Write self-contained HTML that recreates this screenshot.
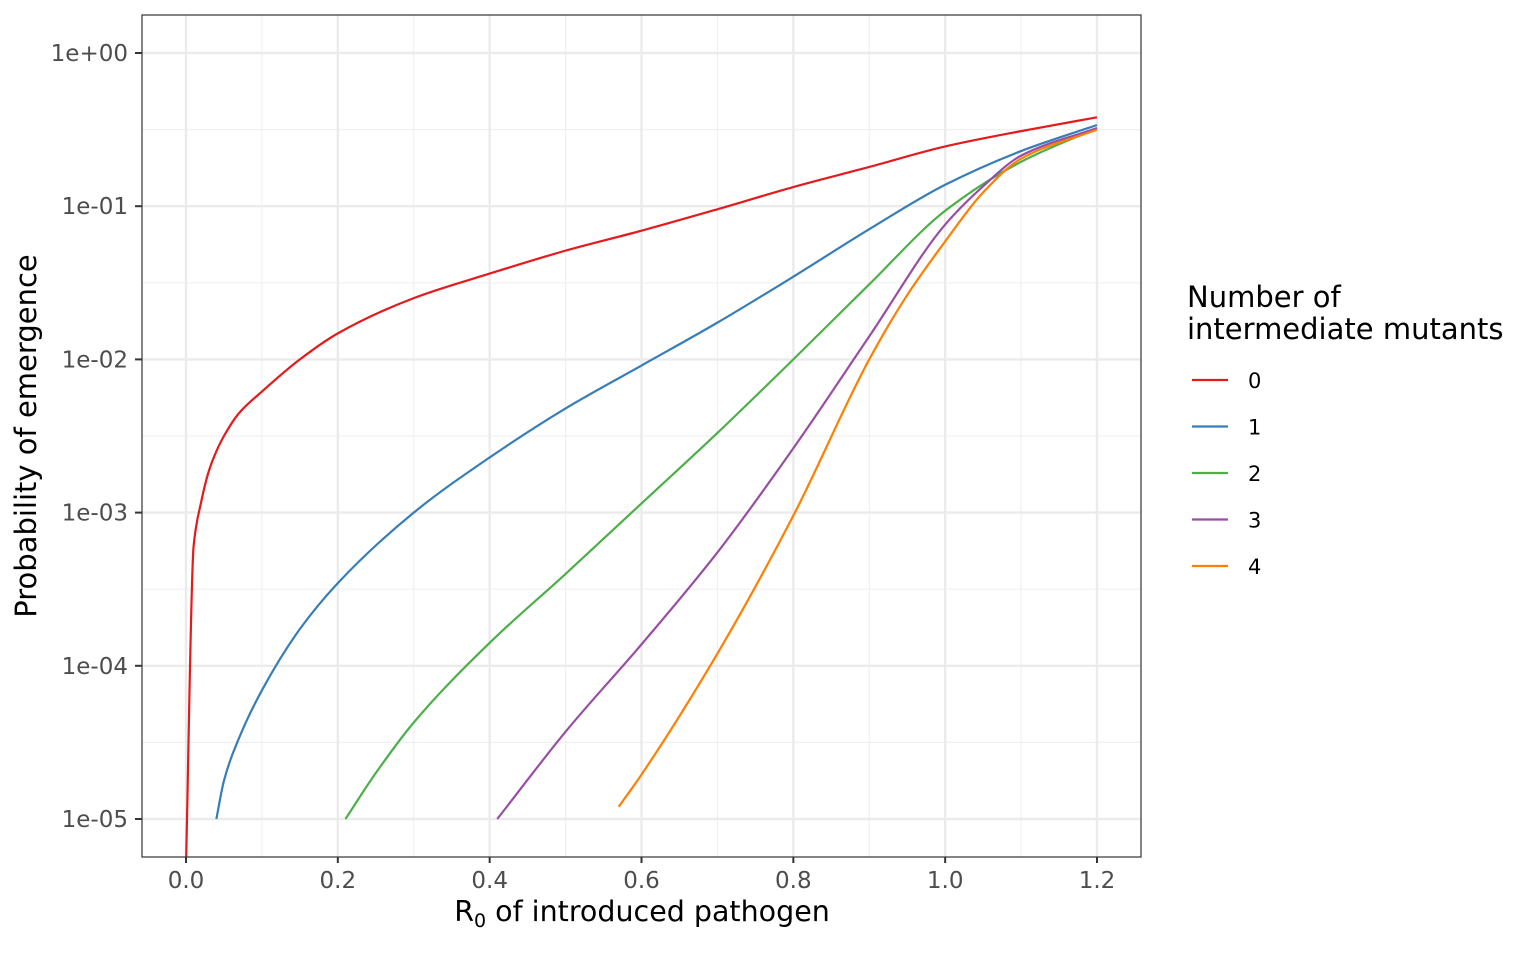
<!DOCTYPE html>
<html><head><meta charset="utf-8"><style>
html,body{margin:0;padding:0;background:#fff;}
svg text{font-family:"DejaVu Sans","Liberation Sans",sans-serif;}
</style></head><body>
<svg id="chart" width="1536" height="949" xmlns="http://www.w3.org/2000/svg">
<defs><clipPath id="pc"><rect x="142" y="15" width="999" height="842"/></clipPath></defs>
<rect x="142" y="15" width="999" height="842" fill="#fff"/>
<g id="grid"></g>
<g id="series" clip-path="url(#pc)"></g>
<rect x="142" y="15" width="999" height="842" fill="none" stroke="#333" stroke-width="1.2"/>
<g id="axes"></g>
<text x="642" y="921" text-anchor="middle" font-size="28.5" fill="#000">R<tspan font-size="19" dy="6">0</tspan><tspan dy="-6"> of introduced pathogen</tspan></text>
<text transform="translate(36,436) rotate(-90)" text-anchor="middle" font-size="29" fill="#000">Probability of emergence</text>
<g id="legend">
<text x="1187" y="307" font-size="29" fill="#000">Number of</text>
<text x="1187" y="339" font-size="29" fill="#000">intermediate mutants</text>
</g>
</svg>
<script>
const xTicks=[0,0.2,0.4,0.6,0.8,1.0,1.2];
const xTickLabels=["0.0","0.2","0.4","0.6","0.8","1.0","1.2"];
const yTicks=[0,-1,-2,-3,-4,-5];
const yTickLabels=["1e+00","1e-01","1e-02","1e-03","1e-04","1e-05"];
const seriesNames=["0","1","2","3","4"];
const colors=["#E41A1C","#377EB8","#4DAF4A","#984EA3","#FF7F00"];
// log10(probability) values
const x0=[0,0.01,0.02,0.03,0.04,0.05,0.07,0.1,0.15,0.2,0.3,0.4,0.5,0.6,0.7,0.8,0.9,1.0,1.1,1.2];
const y0=[-5.3,-3.22,-2.93,-2.73,-2.60,-2.50,-2.35,-2.21,-2.00,-1.83,-1.60,-1.44,-1.29,-1.16,-1.02,-0.875,-0.744,-0.61,-0.51,-0.42];
const x1=[0.04,0.05,0.07,0.1,0.15,0.2,0.3,0.4,0.5,0.6,0.7,0.8,0.9,1.0,1.1,1.2];
const y1=[-5,-4.75,-4.47,-4.16,-3.76,-3.46,-3.00,-2.64,-2.32,-2.04,-1.76,-1.46,-1.15,-0.86,-0.64,-0.47];
const x2=[0.21,0.25,0.3,0.4,0.5,0.6,0.7,0.8,0.9,1.0,1.1,1.2];
const y2=[-5,-4.70,-4.37,-3.85,-3.40,-2.94,-2.48,-2.00,-1.51,-1.03,-0.71,-0.49];
const x3=[0.41,0.5,0.6,0.7,0.8,0.9,1.0,1.05,1.1,1.2];
const y3=[-5,-4.43,-3.86,-3.26,-2.58,-1.85,-1.12,-0.87,-0.67,-0.49];
const x4=[0.57,0.6,0.7,0.8,0.9,0.95,1.0,1.05,1.1,1.2];
const y4=[-4.92,-4.71,-3.92,-3.02,-2.00,-1.58,-1.23,-0.91,-0.69,-0.50];
const XS=[x0,x1,x2,x3,x4], YS=[y0,y1,y2,y3,y4];

const NS="http://www.w3.org/2000/svg";
function X(v){return 186+(v/1.2)*911;}
function Y(l){return 53+(-l)*153.2;}
function mk(tag,attrs,parent){const e=document.createElementNS(NS,tag);for(const k in attrs)e.setAttribute(k,attrs[k]);parent.appendChild(e);return e;}
const grid=document.getElementById('grid'),axes=document.getElementById('axes'),ser=document.getElementById('series'),leg=document.getElementById('legend');
for(let i=0;i<xTicks.length-1;i++){const m=(xTicks[i]+xTicks[i+1])/2;const l=mk('line',{x1:X(m),x2:X(m),y1:15,y2:857,stroke:"#f0f0f0","stroke-width":1.2},grid);

}
for(let i=0;i<yTicks.length-1;i++){const m=(yTicks[i]+yTicks[i+1])/2;const l=mk('line',{x1:142,x2:1141,y1:Y(m),y2:Y(m),stroke:"#f0f0f0","stroke-width":1.2},grid);

}
xTicks.forEach((v,i)=>{const l=mk('line',{x1:X(v),x2:X(v),y1:15,y2:857,stroke:"#ebebeb","stroke-width":2.4},grid);


const t=mk('line',{x1:X(v),x2:X(v),y1:857,y2:863,stroke:"#333","stroke-width":2},axes);


const tx=mk('text',{x:X(v),y:888,"text-anchor":"middle","font-size":23,fill:"#4d4d4d"},axes);tx.textContent=xTickLabels[i];

});
yTicks.forEach((v,i)=>{const l=mk('line',{x1:142,x2:1141,y1:Y(v),y2:Y(v),stroke:"#ebebeb","stroke-width":2.4},grid);


const t=mk('line',{x1:135,x2:142,y1:Y(v),y2:Y(v),stroke:"#333","stroke-width":2},axes);


const tx=mk('text',{x:128,y:Y(v)+8,"text-anchor":"end","font-size":23,fill:"#4d4d4d"},axes);tx.textContent=yTickLabels[i];

});
function monotone(pts){const n=pts.length;if(n<2)return"";const dx=[],s=[];
for(let i=0;i<n-1;i++){dx.push(pts[i+1][0]-pts[i][0]);s.push((pts[i+1][1]-pts[i][1])/dx[i]);}
const m=new Array(n);m[0]=s[0];m[n-1]=s[n-2];
for(let i=1;i<n-1;i++){if(s[i-1]*s[i]<=0)m[i]=0;else{const w1=2*dx[i]+dx[i-1],w2=dx[i]+2*dx[i-1];m[i]=(w1+w2)/(w1/s[i-1]+w2/s[i]);}}
let d="M"+pts[0][0]+","+pts[0][1];
for(let i=0;i<n-1;i++){const h=dx[i]/3;d+=" C"+(pts[i][0]+h)+","+(pts[i][1]+m[i]*h)+" "+(pts[i+1][0]-h)+","+(pts[i+1][1]-m[i+1]*h)+" "+pts[i+1][0]+","+pts[i+1][1];}
return d;}
XS.forEach((xs,s)=>{const pts=xs.map((v,i)=>[X(v),Y(YS[s][i])]);
const p=mk('path',{d:monotone(pts),fill:"none",stroke:colors[s],"stroke-width":2.2},ser);


const ly=380+s*46.5;
const ll=mk('line',{x1:1192,x2:1228,y1:ly,y2:ly,stroke:colors[s],"stroke-width":2.2},leg);


const lt=mk('text',{x:1248,y:ly+8,"font-size":21,fill:"#000"},leg);lt.textContent=seriesNames[s];

});
</script>
</body></html>
